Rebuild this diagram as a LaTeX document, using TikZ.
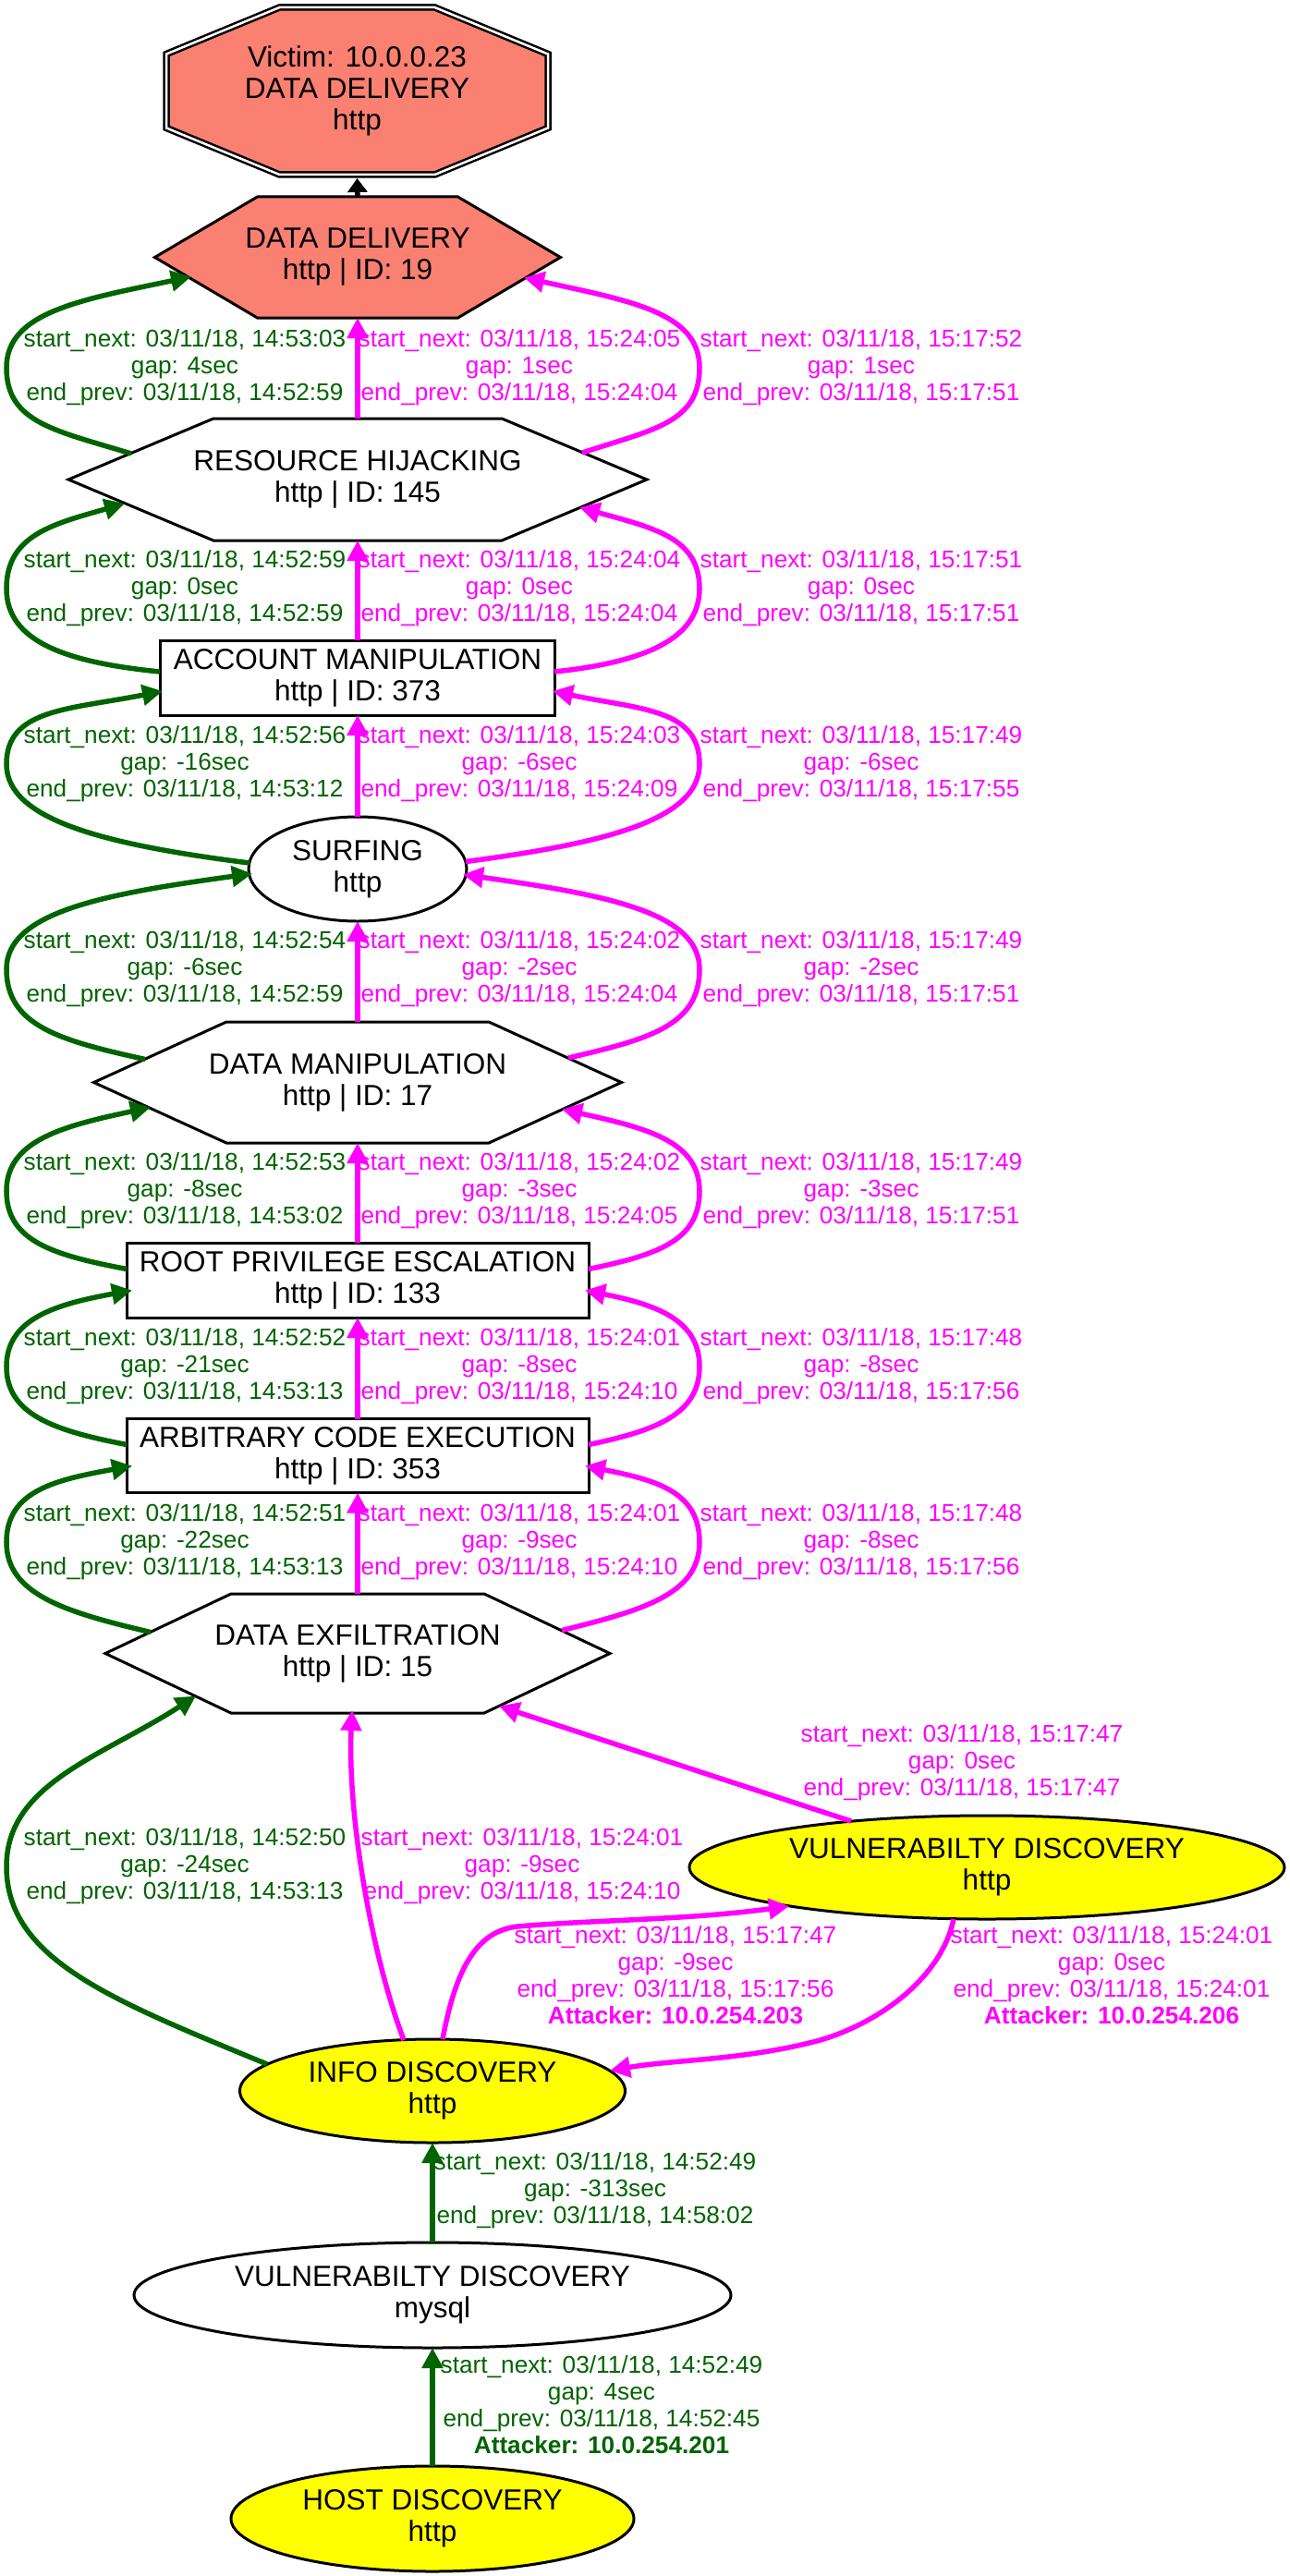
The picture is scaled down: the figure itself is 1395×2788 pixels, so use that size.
\documentclass[tikz,border=0pt]{standalone}
\usepackage{fontspec}
\setmainfont{Liberation Sans}
\usetikzlibrary{arrows.meta,shapes.geometric}

\definecolor{edgegreen}{RGB}{0,100,0}
\definecolor{edgemagenta}{RGB}{255,0,255}
\definecolor{salmonfill}{RGB}{250,128,114}
\definecolor{yellowfill}{RGB}{255,255,0}

\newcommand\txtnode{\fontsize{31.5pt}{34pt}\selectfont}
\newcommand\txtedge{\fontsize{26.2pt}{29pt}\selectfont}

% hexagon: centre x, centre y, half width, half top edge, half height, fill
\newcommand\hexoutline[6]{%
  \filldraw[fill=#6, draw=black, line width=3pt, line join=miter]
    ({#1-#3},{#2}) -- ({#1-#4},{#2-#5}) -- ({#1+#4},{#2-#5})
    -- ({#1+#3},{#2}) -- ({#1+#4},{#2+#5}) -- ({#1-#4},{#2+#5}) -- cycle;}

% double octagon: centre x, centre y, half width, half top edge, half height, half side, fill
\newcommand\octoutline[7]{%
  \filldraw[fill=#7, draw=black, double=white, double distance=2.5pt,
            line width=2.5pt, line join=miter]
    ({#1-#4},{#2-#5}) -- ({#1+#4},{#2-#5}) -- ({#1+#3},{#2-#6})
    -- ({#1+#3},{#2+#6}) -- ({#1+#4},{#2+#5}) -- ({#1-#4},{#2+#5})
    -- ({#1-#3},{#2+#6}) -- ({#1-#3},{#2-#6}) -- cycle;}

\begin{document}
\begin{tikzpicture}[x=1pt, y=-1pt,
  txt/.style={align=center, inner sep=0pt, outer sep=0pt, font=\txtnode},
  elbl/.style={align=center, inner sep=0pt, outer sep=0pt, font=\txtedge},
  boxnode/.style={txt, draw, rectangle, line width=3pt, fill=white},
  ellnode/.style={txt, draw, ellipse, line width=3pt, fill=white},
  gedge/.style={draw=edgegreen, line width=5.5pt, -{Triangle[length=22pt,width=22pt]}},
  medge/.style={draw=edgemagenta, line width=5.5pt, -{Triangle[length=22pt,width=22pt]}},
  kedge/.style={draw=black, line width=5.5pt, -{Triangle[length=15pt,width=21pt]}},
  glbl/.style={elbl, text=edgegreen},
  mlbl/.style={elbl, text=edgemagenta}]

\useasboundingbox (0,0) rectangle (1395,2788);
\fill[white] (0,0) rectangle (1395,2788);

% ---------- nodes ----------
\octoutline{386.5}{98.5}{206.5}{84}{90.5}{40}{salmonfill}
\node[txt, minimum width=413pt, minimum height=189pt] (vic) at (386.5,98.5)
  {Victim: 10.0.0.23\\DATA DELIVERY\\http};

\hexoutline{387}{278.5}{219.5}{108.5}{65.5}{salmonfill}
\node[txt, minimum width=439pt, minimum height=131pt] (dd) at (387,278.5)
  {DATA DELIVERY\\http | ID: 19};

\hexoutline{387}{519}{313}{156}{66}{white}
\node[txt, minimum width=626pt, minimum height=132pt] (rh) at (387,519)
  {RESOURCE HIJACKING\\http | ID: 145};

\node[boxnode, minimum width=427pt, minimum height=81pt] (am) at (387,733.5)
  {ACCOUNT MANIPULATION\\http | ID: 373};

\node[ellnode, minimum width=236pt, minimum height=113pt] (surf) at (387,940.5)
  {SURFING\\http};

\hexoutline{387}{1171.5}{285.5}{142}{65.5}{white}
\node[txt, minimum width=571pt, minimum height=131pt] (dm) at (387,1171.5)
  {DATA MANIPULATION\\http | ID: 17};

\node[boxnode, minimum width=500pt, minimum height=81pt] (rpe) at (387,1385.5)
  {ROOT PRIVILEGE ESCALATION\\http | ID: 133};

\node[boxnode, minimum width=500pt, minimum height=80pt] (ace) at (387,1575.5)
  {ARBITRARY CODE EXECUTION\\http | ID: 353};

\hexoutline{387}{1789.5}{273}{137}{64.5}{white}
\node[txt, minimum width=546pt, minimum height=129pt] (de) at (387,1789.5)
  {DATA EXFILTRATION\\http | ID: 15};

\node[ellnode, fill=yellowfill, minimum width=644pt, minimum height=112pt] (vdh) at (1068,2021)
  {VULNERABILTY DISCOVERY\\http};

\node[ellnode, fill=yellowfill, minimum width=417pt, minimum height=112pt] (info) at (468,2263)
  {INFO DISCOVERY\\http};

\node[ellnode, minimum width=646pt, minimum height=114pt] (mysql) at (468,2484)
  {VULNERABILTY DISCOVERY\\mysql};

\node[ellnode, fill=yellowfill, minimum width=436pt, minimum height=114pt] (host) at (468,2726)
  {HOST DISCOVERY\\http};

% ---------- straight connectors ----------
\draw[kedge] (dd.north) -- (vic.south);
\draw[medge] (rh.north) -- (dd.south);
\draw[medge] (am.north) -- (rh.south);
\draw[medge] (surf.north) -- (am.south);
\draw[medge] (dm.north) -- (surf.south);
\draw[medge] (rpe.north) -- (dm.south);
\draw[medge] (ace.north) -- (rpe.south);
\draw[medge] (de.north) -- (ace.south);
\draw[gedge] (mysql.north) -- (info.south);
\draw[gedge] (host.north) -- (mysql.south);

% ---------- left (green) loops: source, outermost point, target ----------
\draw[gedge] ([shift={(-245,-28)}]rh.center) .. controls +(-81,-25) and +(0,60) .. ([shift={(-380,-121)}]rh.center)
  .. controls +(0,-60) and +(-120,25) .. ([shift={(-180,21)}]dd.center);
\draw[gedge] ([shift={(-214,-6.5)}]am.center) .. controls +(-100,-10) and +(0,58) .. ([shift={(-380,-96.5)}]am.center)
  .. controls +(0,-58) and +(-77,22) .. ([shift={(-252,26)}]rh.center);
\draw[gedge] ([shift={(-117,-6.5)}]surf.center) .. controls +(-158,-20) and +(0,60) .. ([shift={(-380,-113.5)}]surf.center)
  .. controls +(0,-60) and +(-101,20) .. ([shift={(-211,14.5)}]am.center);
\draw[gedge] ([shift={(-230,-25)}]dm.center) .. controls +(-90,-20) and +(0,62) .. ([shift={(-380,-122.5)}]dm.center)
  .. controls +(0,-62) and +(-160,22) .. ([shift={(-114,5)}]surf.center);
\draw[gedge] ([shift={(-250,-12)}]rpe.center) .. controls +(-78,-15) and +(0,55) .. ([shift={(-380,-96.5)}]rpe.center)
  .. controls +(0,-55) and +(-94,20) .. ([shift={(-224,27)}]dm.center);
\draw[gedge] ([shift={(-250,-12)}]ace.center) .. controls +(-78,-15) and +(0,52) .. ([shift={(-380,-96.5)}]ace.center)
  .. controls +(0,-52) and +(-82,15) .. ([shift={(-244,11)}]rpe.center);
\draw[gedge] ([shift={(-224,-23)}]de.center) .. controls +(-94,-22) and +(0,56) .. ([shift={(-380,-120.5)}]de.center)
  .. controls +(0,-56) and +(-82,15) .. ([shift={(-244,11)}]ace.center);
\draw[gedge] ([shift={(-179,-29)}]info.center) .. controls +(-170,-70) and +(0,100) .. ([shift={(-461,-243)}]info.center)
  .. controls +(0,-90) and +(-100,65) .. ([shift={(-175,46)}]de.center);

% ---------- right (magenta) loops: source, outermost point, target ----------
\draw[medge] ([shift={(243,-29)}]rh.center) .. controls +(76,-25) and +(0,60) .. ([shift={(370,-121)}]rh.center)
  .. controls +(0,-60) and +(114,25) .. ([shift={(180,22)}]dd.center);
\draw[medge] ([shift={(213,-6.5)}]am.center) .. controls +(94,-10) and +(0,56) .. ([shift={(370,-96.5)}]am.center)
  .. controls +(0,-56) and +(78,22) .. ([shift={(240,30)}]rh.center);
\draw[medge] ([shift={(117,-8)}]surf.center) .. controls +(152,-20) and +(0,60) .. ([shift={(370,-113.5)}]surf.center)
  .. controls +(0,-60) and +(95,20) .. ([shift={(211,14.5)}]am.center);
\draw[medge] ([shift={(228,-26.5)}]dm.center) .. controls +(85,-20) and +(0,62) .. ([shift={(370,-122.5)}]dm.center)
  .. controls +(0,-62) and +(154,22) .. ([shift={(114,6)}]surf.center);
\draw[medge] ([shift={(250,-12)}]rpe.center) .. controls +(72,-15) and +(0,55) .. ([shift={(370,-96.5)}]rpe.center)
  .. controls +(0,-55) and +(89,20) .. ([shift={(221,29)}]dm.center);
\draw[medge] ([shift={(250,-12)}]ace.center) .. controls +(72,-15) and +(0,52) .. ([shift={(370,-96.5)}]ace.center)
  .. controls +(0,-52) and +(74,15) .. ([shift={(246,11)}]rpe.center);
\draw[medge] ([shift={(221,-25)}]de.center) .. controls +(89,-22) and +(0,56) .. ([shift={(370,-120.5)}]de.center)
  .. controls +(0,-56) and +(74,15) .. ([shift={(246,11)}]ace.center);

% ---------- lower magenta connectors ----------
\draw[medge] ([shift={(-147,-50)}]vdh.center) -- ([shift={(153,57)}]de.center);
\draw[medge] ([shift={(-31,-55)}]info.center) .. controls +(-37,-98) and +(-5,109) .. ([shift={(-6,61.5)}]de.center);
\draw[medge] ([shift={(11,-56)}]info.center) .. controls +(14,-75) and +(-45,5) .. ([shift={(-508,64)}]vdh.center)
  .. controls +(80,-7) and +(-110,15) .. ([shift={(-214,42)}]vdh.center);
\draw[medge] ([shift={(-36,56)}]vdh.center) .. controls +(-15,70) and +(60,-15) .. ([shift={(412,-53)}]info.center)
  .. controls +(-80,20) and +(70,-12) .. ([shift={(192,-22)}]info.center);

% ---------- labels: green ----------
\node[glbl] (lg1) at (200,398) {start\_next: 03/11/18, 14:53:03\\gap: 4sec\\end\_prev: 03/11/18, 14:52:59};
\node[glbl] (lg2) at (200,637) {start\_next: 03/11/18, 14:52:59\\gap: 0sec\\end\_prev: 03/11/18, 14:52:59};
\node[glbl] (lg3) at (200,827) {start\_next: 03/11/18, 14:52:56\\gap: -16sec\\end\_prev: 03/11/18, 14:53:12};
\node[glbl] (lg4) at (200,1049) {start\_next: 03/11/18, 14:52:54\\gap: -6sec\\end\_prev: 03/11/18, 14:52:59};
\node[glbl] (lg5) at (200,1289) {start\_next: 03/11/18, 14:52:53\\gap: -8sec\\end\_prev: 03/11/18, 14:53:02};
\node[glbl] (lg6) at (200,1479) {start\_next: 03/11/18, 14:52:52\\gap: -21sec\\end\_prev: 03/11/18, 14:53:13};
\node[glbl] (lg7) at (200,1669) {start\_next: 03/11/18, 14:52:51\\gap: -22sec\\end\_prev: 03/11/18, 14:53:13};
\node[glbl] (lg8) at (200,2020) {start\_next: 03/11/18, 14:52:50\\gap: -24sec\\end\_prev: 03/11/18, 14:53:13};
\node[glbl] (lg9) at (644,2371) {start\_next: 03/11/18, 14:52:49\\gap: -313sec\\end\_prev: 03/11/18, 14:58:02};
\node[glbl] (lg10) at (651,2603) {start\_next: 03/11/18, 14:52:49\\gap: 4sec\\end\_prev: 03/11/18, 14:52:45\\\textbf{Attacker: 10.0.254.201}};

% ---------- labels: magenta, middle column ----------
\node[mlbl] (lm1) at (562,398) {start\_next: 03/11/18, 15:24:05\\gap: 1sec\\end\_prev: 03/11/18, 15:24:04};
\node[mlbl] (lm2) at (562,637) {start\_next: 03/11/18, 15:24:04\\gap: 0sec\\end\_prev: 03/11/18, 15:24:04};
\node[mlbl] (lm3) at (562,827) {start\_next: 03/11/18, 15:24:03\\gap: -6sec\\end\_prev: 03/11/18, 15:24:09};
\node[mlbl] (lm4) at (562,1049) {start\_next: 03/11/18, 15:24:02\\gap: -2sec\\end\_prev: 03/11/18, 15:24:04};
\node[mlbl] (lm5) at (562,1289) {start\_next: 03/11/18, 15:24:02\\gap: -3sec\\end\_prev: 03/11/18, 15:24:05};
\node[mlbl] (lm6) at (562,1479) {start\_next: 03/11/18, 15:24:01\\gap: -8sec\\end\_prev: 03/11/18, 15:24:10};
\node[mlbl] (lm7) at (562,1669) {start\_next: 03/11/18, 15:24:01\\gap: -9sec\\end\_prev: 03/11/18, 15:24:10};
\node[mlbl] (lm8) at (565,2020) {start\_next: 03/11/18, 15:24:01\\gap: -9sec\\end\_prev: 03/11/18, 15:24:10};

% ---------- labels: magenta, right column ----------
\node[mlbl] (lr1) at (932,398) {start\_next: 03/11/18, 15:17:52\\gap: 1sec\\end\_prev: 03/11/18, 15:17:51};
\node[mlbl] (lr2) at (932,637) {start\_next: 03/11/18, 15:17:51\\gap: 0sec\\end\_prev: 03/11/18, 15:17:51};
\node[mlbl] (lr3) at (932,827) {start\_next: 03/11/18, 15:17:49\\gap: -6sec\\end\_prev: 03/11/18, 15:17:55};
\node[mlbl] (lr4) at (932,1049) {start\_next: 03/11/18, 15:17:49\\gap: -2sec\\end\_prev: 03/11/18, 15:17:51};
\node[mlbl] (lr5) at (932,1289) {start\_next: 03/11/18, 15:17:49\\gap: -3sec\\end\_prev: 03/11/18, 15:17:51};
\node[mlbl] (lr6) at (932,1479) {start\_next: 03/11/18, 15:17:48\\gap: -8sec\\end\_prev: 03/11/18, 15:17:56};
\node[mlbl] (lr7) at (932,1669) {start\_next: 03/11/18, 15:17:48\\gap: -8sec\\end\_prev: 03/11/18, 15:17:56};
\node[mlbl] (lr8) at (1041,1908) {start\_next: 03/11/18, 15:17:47\\gap: 0sec\\end\_prev: 03/11/18, 15:17:47};
\node[mlbl] (lr9) at (731,2138) {start\_next: 03/11/18, 15:17:47\\gap: -9sec\\end\_prev: 03/11/18, 15:17:56\\\textbf{Attacker: 10.0.254.203}};
\node[mlbl] (lr10) at (1203,2138) {start\_next: 03/11/18, 15:24:01\\gap: 0sec\\end\_prev: 03/11/18, 15:24:01\\\textbf{Attacker: 10.0.254.206}};

\end{tikzpicture}
\end{document}
